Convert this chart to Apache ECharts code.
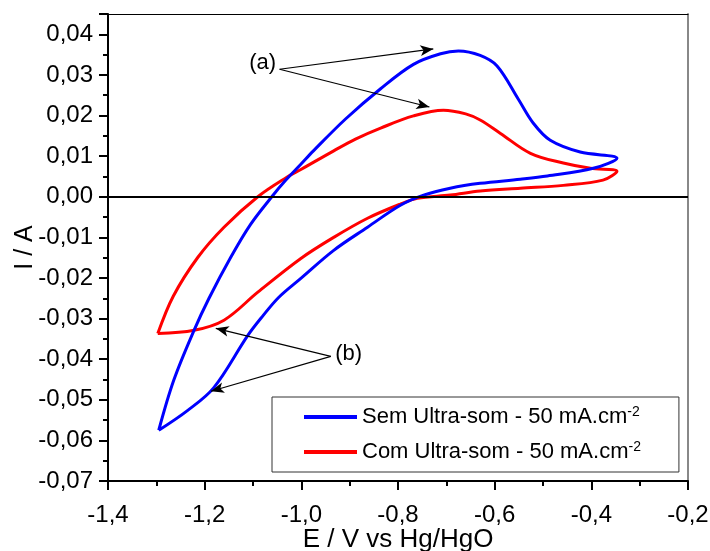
<!DOCTYPE html>
<html lang="pt">
  <head>
    <meta charset="UTF-8" />
    <title>Voltametria</title>
    <script src="https://cdn.jsdelivr.net/npm/echarts@6/dist/echarts.min.js"></script>
    <style>
      html, body { margin: 0; padding: 0; background: #fff; }
      #main { width: 710px; height: 551px; }
    </style>
  </head>
  <body>
    <div id="main"></div>
    <script>
      // loop sem ultra-som (azul): varredura anódica e volta
      var semE = [-1.295, -1.264, -1.222, -1.191, -1.146, -1.105, -1.059, -1.032, -1.001, -0.975,
                  -0.908, -0.836, -0.768, -0.712, -0.675, -0.630, -0.595, -0.551, -0.520, -0.485,
                  -0.423, -0.347, -0.396, -0.491, -0.547, -0.630, -0.692, -0.747, -0.795, -0.863,
                  -0.933, -1.001, -1.047, -1.080, -1.111, -1.181, -1.235, -1.295];
      var semI = [-0.0575, -0.0452, -0.0329, -0.0250, -0.0149, -0.0068, 0.0003, 0.0041, 0.0080, 0.0113,
                  0.0192, 0.0266, 0.0326, 0.0352, 0.0359, 0.0348, 0.0322, 0.0240, 0.0181, 0.0139,
                  0.0110, 0.0095, 0.0070, 0.0051, 0.0043, 0.0033, 0.0021, 0.0004, -0.0021, -0.0075,
                  -0.0132, -0.0201, -0.0248, -0.0294, -0.0342, -0.0470, -0.0526, -0.0575];
      // loop com ultra-som (vermelho)
      var comE = [-1.297, -1.265, -1.214, -1.160, -1.090, -1.030, -1.001, -0.933, -0.888, -0.836,
                  -0.768, -0.706, -0.660, -0.630, -0.588, -0.526, -0.458, -0.402, -0.347, -0.376,
                  -0.458, -0.547, -0.630, -0.692, -0.760, -0.795, -0.863, -0.933, -1.001, -1.090,
                  -1.160, -1.222, -1.297];
      var comI = [-0.0337, -0.0245, -0.0149, -0.0075, 0.0000, 0.0048, 0.0067, 0.0113, 0.0142, 0.0169,
                  0.0199, 0.0213, 0.0204, 0.0189, 0.0156, 0.0107, 0.0083, 0.0070, 0.0063, 0.0041,
                  0.0028, 0.0021, 0.0014, 0.0004, -0.0004, -0.0018, -0.0053, -0.0100, -0.0152, -0.0235,
                  -0.0304, -0.0329, -0.0337];

      var names = ['Sem Ultra-som - 50 mA.cm', 'Com Ultra-som - 50 mA.cm'];

      // setas (a) e (b): origem, ponta 1, ponta 2
      var arrowA = [[-1.045, 0.0314], [-0.727, 0.0364], [-0.735, 0.0221]];
      var arrowB = [[-0.939, -0.0393], [-1.177, -0.0324], [-1.187, -0.0479]];
      var labelA = [-1.080, 0.0329];
      var labelB = [-0.902, -0.0386];

      var font = 'Liberation Sans, Arial, sans-serif';

      function zip(xs, ys) {
        return xs.map(function (x, i) { return [x, ys[i]]; });
      }
      function arrows(a) {
        return [
          [{ coord: a[0] }, { coord: a[1] }],
          [{ coord: a[0] }, { coord: a[2] }]
        ];
      }

      var myChart = echarts.init(document.getElementById('main'));

      var option = {
        backgroundColor: '#fff',
        animation: false,
        grid: { left: 108, right: 22, top: 14, bottom: 70, containLabel: false, outerBoundsMode: 'none' },
        legend: {
          orient: 'vertical',
          left: 272,
          top: 397,
          padding: [8, 38, 6, 32],
          itemGap: 9,
          itemWidth: 53,
          itemHeight: 4,
          borderColor: '#333',
          borderWidth: 1,
          backgroundColor: '#fff',
          data: [{ name: names[0], icon: 'rect' }, { name: names[1], icon: 'rect' }],
          formatter: function (name) {
            return '{n|' + name + '}{s|-2}';
          },
          textStyle: {
            rich: {
              n: { fontFamily: font, fontSize: 22, color: '#000', lineHeight: 24 },
              s: { fontFamily: font, fontSize: 14, color: '#000', verticalAlign: 'top', lineHeight: 24, padding: [0, 0, 12, 0] }
            }
          }
        },
        xAxis: [{
          type: 'value',
          min: -1.4,
          max: -0.2,
          interval: 0.2,
          name: 'E / V vs Hg/HgO',
          nameLocation: 'middle',
          nameGap: 46,
          nameMoveOverlap: false,
          nameTextStyle: { fontFamily: font, fontSize: 26, color: '#000' },
          axisLine: { show: true, onZero: false, lineStyle: { color: '#000', width: 2 } },
          axisTick: { show: true, length: 9, lineStyle: { color: '#000', width: 2 } },
          minorTick: { show: true, splitNumber: 2, length: 5, lineStyle: { color: '#000', width: 2 } },
          splitLine: { show: false },
          axisLabel: {
            margin: 22,
            fontFamily: font,
            fontSize: 24,
            color: '#000',
            formatter: function (v) { return v.toFixed(1).replace('.', ','); }
          }
        }, {
          type: 'value',
          position: 'top',
          min: -1.4,
          max: -0.2,
          axisLine: { show: true, onZero: false, lineStyle: { color: '#000', width: 1 } },
          axisTick: { show: false },
          axisLabel: { show: false },
          splitLine: { show: false }
        }],
        yAxis: [{
          type: 'value',
          min: -0.07,
          max: 0.045,
          interval: 0.01,
          name: 'I / A',
          nameLocation: 'middle',
          nameGap: 70,
          nameMoveOverlap: false,
          nameTextStyle: { fontFamily: font, fontSize: 25, color: '#000' },
          axisLine: { show: true, onZero: false, lineStyle: { color: '#000', width: 2 } },
          axisTick: { show: true, length: 9, lineStyle: { color: '#000', width: 2 } },
          minorTick: { show: true, splitNumber: 2, length: 5, lineStyle: { color: '#000', width: 2 } },
          splitLine: { show: false },
          axisLabel: {
            margin: 15,
            fontFamily: font,
            fontSize: 24,
            color: '#000',
            showMaxLabel: false,
            formatter: function (v) { return v.toFixed(2).replace('.', ','); }
          }
        }, {
          type: 'value',
          position: 'right',
          min: -0.07,
          max: 0.045,
          axisLine: { show: true, onZero: false, lineStyle: { color: '#888', width: 2 } },
          axisTick: { show: false },
          axisLabel: { show: false },
          splitLine: { show: false }
        }],
        series: [
          {
            name: names[1],
            type: 'line',
            data: zip(comE, comI),
            smooth: 0.35,
            symbol: 'none',
            color: '#ff0000',
            lineStyle: { color: '#ff0000', width: 3 },
            z: 3
          },
          {
            name: names[0],
            type: 'line',
            data: zip(semE, semI),
            smooth: 0.35,
            symbol: 'none',
            color: '#0000ff',
            lineStyle: { color: '#0000ff', width: 3 },
            z: 4
          },
          {
            // linha do zero e rótulos (a), (b)
            name: 'notas',
            type: 'line',
            data: [],
            silent: true,
            z: 5,
            markLine: {
              silent: true,
              animation: false,
              symbol: ['none', 'none'],
              label: { show: false },
              lineStyle: { color: '#000', width: 2, type: 'solid' },
              data: [{ yAxis: 0 }]
            },
            markPoint: {
              silent: true,
              symbol: 'circle',
              symbolSize: 0,
              label: {
                show: true,
                fontFamily: font,
                fontSize: 22,
                color: '#000',
                formatter: function (p) { return p.name; }
              },
              data: [
                { name: '(a)', coord: labelA },
                { name: '(b)', coord: labelB }
              ]
            }
          },
          {
            name: 'setas',
            type: 'line',
            data: [],
            silent: true,
            z: 6,
            markLine: {
              silent: true,
              animation: false,
              symbol: ['none', 'arrow'],
              symbolSize: [8, 13],
              label: { show: false },
              lineStyle: { color: '#000', width: 1.2, type: 'solid' },
              data: arrows(arrowA).concat(arrows(arrowB))
            }
          }
        ]
      };

      myChart.setOption(option);
    </script>
  </body>
</html>
